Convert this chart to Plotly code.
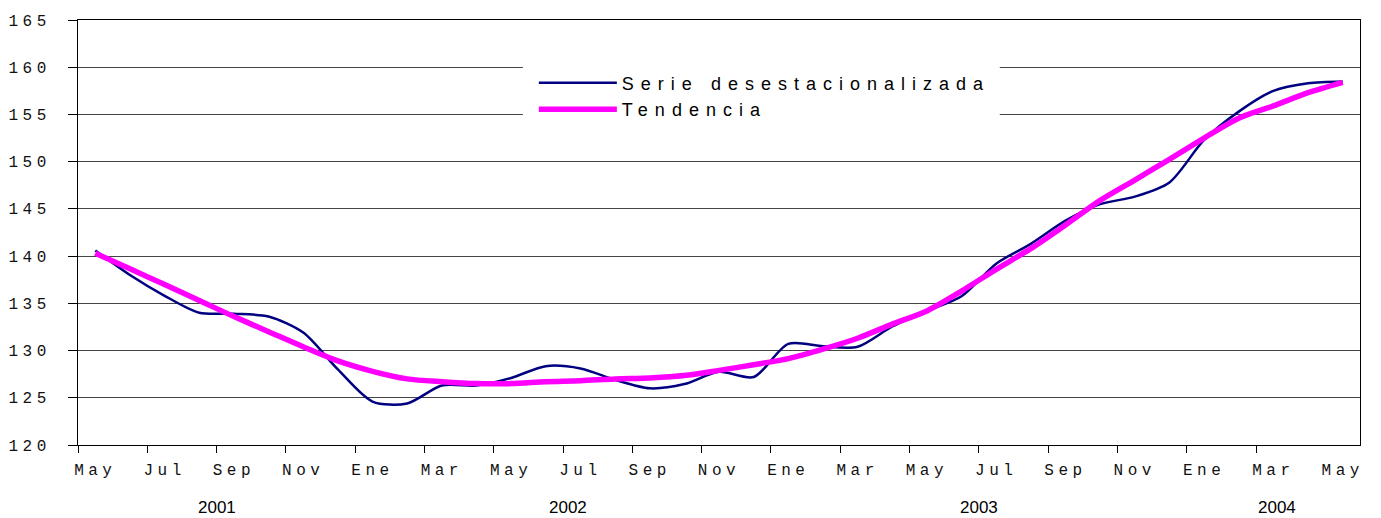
import plotly.graph_objects as go

# ---- data (monthly, May 2001 .. May 2004) ----
months = ["May", "Jun", "Jul", "Ago", "Sep", "Oct", "Nov", "Dic", "Ene", "Feb", "Mar", "Abr"] * 3 + ["May"]
serie_desestacionalizada = [
    140.6, 138.0, 135.8, 134.0, 133.9, 133.6, 131.9, 128.0, 124.6, 124.4,
    126.3, 126.3, 127.1, 128.35, 128.1, 126.9, 126.0, 126.45, 127.75, 127.2,
    130.7, 130.45, 130.4, 132.55, 134.2, 135.75, 139.2, 141.3, 143.75, 145.5,
    146.3, 147.8, 152.3, 155.3, 157.5, 158.3, 158.5,
]
tendencia = [
    140.3, 138.65, 137.0, 135.3, 133.6, 132.0, 130.4, 128.9, 127.8, 127.0,
    126.7, 126.5, 126.5, 126.7, 126.8, 127.0, 127.1, 127.35, 127.9, 128.5,
    129.15, 130.15, 131.3, 132.8, 134.2, 136.3, 138.6, 140.8, 143.3, 145.9,
    148.05, 150.25, 152.5, 154.6, 155.9, 157.3, 158.4,
]
y_ticks = [120, 125, 130, 135, 140, 145, 150, 155, 160, 165]
years = ["2001", "2002", "2003", "2004"]
year_pos = [3.5, 13.65, 25.5, 34.1]

x = list(range(len(months)))
label_idx = list(range(0, len(months), 2))
boundary_ticks = [i - 0.5 for i in label_idx[:-1]]

MONO = "Liberation Mono, Courier New, monospace"
SANS = "Liberation Sans, Arial, sans-serif"

def spaced(s, px):
    return f'<span style="letter-spacing:{px}px">{s}</span>'

fig = go.Figure()
fig.add_trace(go.Scatter(
    x=x, y=serie_desestacionalizada, mode="lines",
    name=spaced("Serie desestacionalizada", 7),
    line=dict(color="#000080", width=2.5, shape="spline", smoothing=0.8),
))
fig.add_trace(go.Scatter(
    x=x, y=tendencia, mode="lines",
    name=spaced("Tendencia", 7),
    line=dict(color="#FF00FF", width=5.5, shape="spline", smoothing=0.8),
))

for yr, p in zip(years, year_pos):
    fig.add_annotation(x=p, y=-0.148, xref="x", yref="paper", text=yr,
                       showarrow=False, xanchor="center", yanchor="middle",
                       font=dict(family=SANS, size=17, color="#000"))

# white panel behind the legend (hides the gridlines there, as in the original)
fig.add_shape(type="rect", xref="paper", yref="paper",
              x0=0.347, x1=0.719, y0=0.76, y1=0.902,
              fillcolor="white", line=dict(width=0), layer="above")

# the page body adds an 8px offset, so the figure is sized to fit the window
fig.update_layout(
    width=1373, height=510,
    margin=dict(l=70, r=21, t=12, b=73, autoexpand=False),
    paper_bgcolor="white", plot_bgcolor="white",
    font=dict(family=SANS, color="#000"),
    showlegend=True,
    legend=dict(
        x=0.347, xanchor="left", y=0.895, yanchor="top",
        bgcolor="rgba(255,255,255,0)", borderwidth=0, itemwidth=78, indentation=11,
        font=dict(family=SANS, size=18, color="#000"),
        tracegroupgap=0,
    ),
    xaxis=dict(
        range=[-0.5, len(months) - 0.5],
        automargin=False,
        tickmode="array", tickvals=label_idx,
        ticktext=[spaced(months[i], 4.5) for i in label_idx],
        tickangle=0,
        ticks="outside", ticklen=0, tickcolor="rgba(0,0,0,0)",
        tickfont=dict(family=MONO, size=16, color="#111"),
        ticklabelstandoff=10,
        showgrid=False, zeroline=False,
        showline=True, linecolor="#000", linewidth=1, mirror=True,
        minor=dict(tickmode="array", tickvals=boundary_ticks,
                   ticks="outside", ticklen=7, tickcolor="#000", tickwidth=1,
                   showgrid=False),
    ),
    yaxis=dict(
        range=[120, 165],
        automargin=False,
        tickmode="array", tickvals=y_ticks,
        ticktext=[spaced(str(v), 4.5) for v in y_ticks],
        ticks="outside", ticklen=9, tickcolor="#000", tickwidth=1,
        tickfont=dict(family=MONO, size=16, color="#111"),
        ticklabelstandoff=14,
        showgrid=True, gridcolor="#444", gridwidth=1,
        zeroline=False,
        showline=True, linecolor="#000", linewidth=1, mirror=True,
    ),
)

fig.write_html("out.html")
